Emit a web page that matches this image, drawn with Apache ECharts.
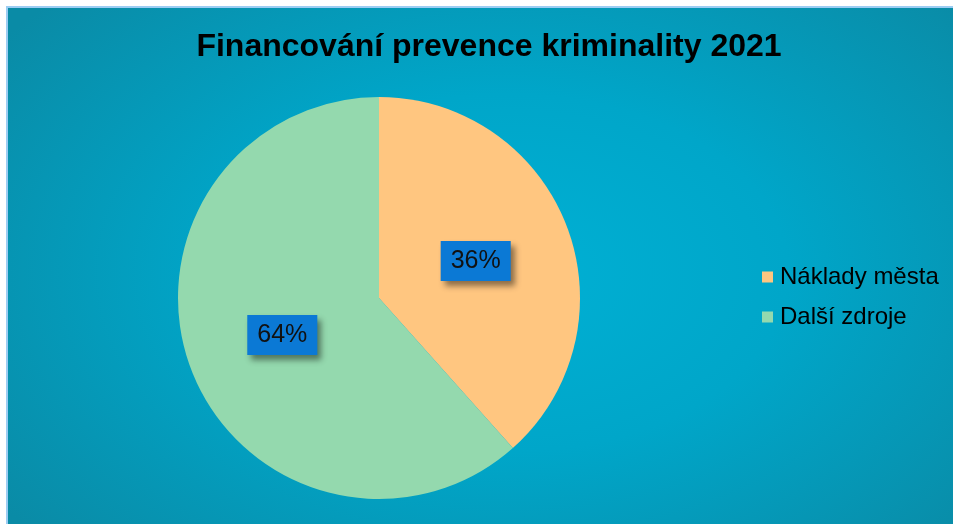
<!DOCTYPE html>
<html>
<head>
<meta charset="utf-8">
<script src="https://cdn.jsdelivr.net/npm/echarts@6/dist/echarts.min.js"></script>
<style>
html,body{margin:0;padding:0;background:#fff;width:953px;height:524px;overflow:hidden;}
#bg{position:absolute;left:6px;top:6px;width:960px;height:530px;border-left:2px solid #9ccdf3;border-top:2px solid #9ccdf3;
background:radial-gradient(ellipse 65% 75% at 52% 50%, #00b0d4 0%, #00a6c9 45%, #0a8ba6 100%);}
#main{position:absolute;left:0;top:0;width:953px;height:524px;}
</style>
</head>
<body>
<div id="bg"></div>
<div id="main"></div>
<script>
const titleText = 'Financování prevence kriminality 2021';
const categories = ['Náklady města', 'Další zdroje'];
// slice sizes as drawn in the picture
const values = [38.4, 61.6];
// percentage labels as printed in the picture
const labelTexts = ['36%', '64%'];
const colors = ['#ffc680', '#94d9ae'];

const chart = echarts.init(document.getElementById('main'), null, {renderer: 'canvas'});

chart.setOption({
  backgroundColor: 'transparent',
  animation: false,
  title: {
    text: titleText,
    left: 484,
    textAlign: 'center',
    top: 26,
    textStyle: {fontFamily: 'Liberation Sans, Arial', fontSize: 32, fontWeight: 'bold', color: '#000'}
  },
  legend: {
    orient: 'vertical',
    left: 757,
    top: 260,
    itemWidth: 11,
    itemHeight: 11,
    itemGap: 16,
    icon: 'rect',
    textStyle: {fontFamily: 'Liberation Sans, Arial', fontSize: 24, lineHeight: 24, color: '#000', padding: [0, 0, 0, 2]},
    data: categories
  },
  series: [{
    type: 'pie',
    center: [379, 298],
    radius: [0, 201],
    startAngle: 90,
    clockwise: true,
    color: colors,
    itemStyle: {borderWidth: 0},
    emphasis: {disabled: true},
    label: {
      show: true,
      position: 'inside',
      formatter: p => labelTexts[p.dataIndex],
      fontFamily: 'Liberation Sans, Arial',
      fontSize: 25,
      lineHeight: 24,
      color: '#111',
      backgroundColor: '#0b79d5',
      padding: [8, 10, 8, 10],
      shadowColor: 'rgba(0,0,0,0.45)',
      shadowBlur: 6,
      shadowOffsetX: 4,
      shadowOffsetY: 5
    },
    labelLine: {show: false},
    data: categories.map((c, i) => ({name: c, value: values[i]}))
  }]
});
</script>
</body>
</html>
